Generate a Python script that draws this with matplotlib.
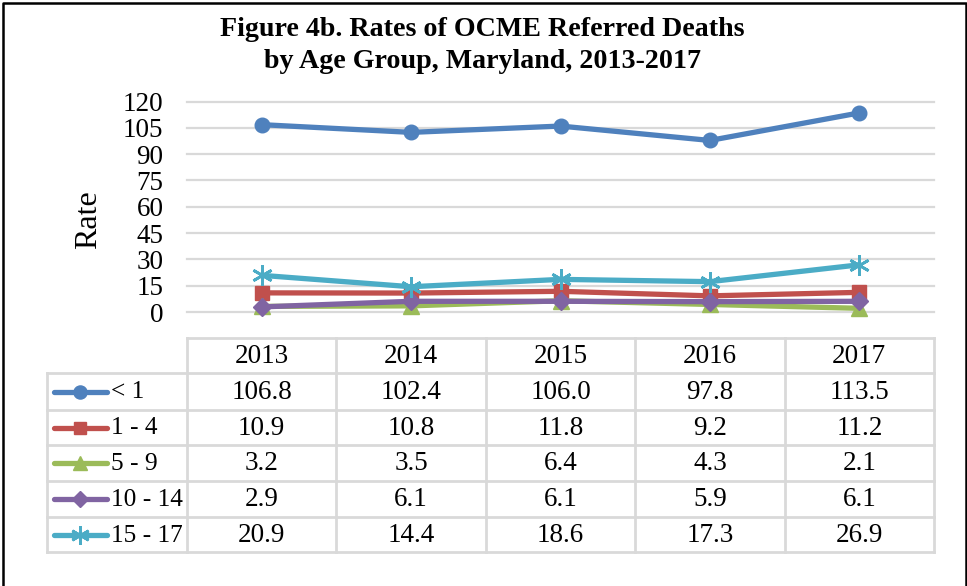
import numpy as np
import matplotlib.pyplot as plt
from matplotlib.lines import Line2D

years = ["2013", "2014", "2015", "2016", "2017"]
groups = ["< 1", "1 - 4", "5 - 9", "10 - 14", "15 - 17"]
under_1 = [106.8, 102.4, 106.0, 97.8, 113.5]
age_1_4 = [10.9, 10.8, 11.8, 9.2, 11.2]
age_5_9 = [3.2, 3.5, 6.4, 4.3, 2.1]
age_10_14 = [2.9, 6.1, 6.1, 5.9, 6.1]
age_15_17 = [20.9, 14.4, 18.6, 17.3, 26.9]
yticks = [0, 15, 30, 45, 60, 75, 90, 105, 120]

series = [under_1, age_1_4, age_5_9, age_10_14, age_15_17]
colors = ["#4F81BD", "#C0504D", "#9BBB59", "#8064A2", "#4BACC6"]
markers = ["o", "s", "^", "D", (6, 2, 0)]
msizes = [10.5, 10, 11, 9, 15]

plt.rcParams['font.family'] = ['Liberation Serif', 'DejaVu Serif']

W, H = 967, 586
fig = plt.figure(figsize=(W / 100, H / 100), dpi=100)

def px_axes(x0, y0, x1, y1):
    return fig.add_axes([x0 / W, 1 - y1 / H, (x1 - x0) / W, (y1 - y0) / H])

# overlay for border, title and the data table (pixel coords)
over = px_axes(0, 0, W, H)
over.set_xlim(0, W)
over.set_ylim(H, 0)
over.axis('off')

# outer frame (left, top, right only visible)
over.plot([3, 3, 965.5, 965.5], [H + 5, 2.5, 2.5, H + 5], color='black', lw=1.8, clip_on=False)

over.text(482, 30, "Figure 4b. Rates of OCME Referred Deaths", ha='center', va='center',
          fontsize=20.2, fontweight='bold')
over.text(482, 62, "by Age Group, Maryland, 2013-2017", ha='center', va='center',
          fontsize=20.2, fontweight='bold')

# main line plot
left, right = 187, 934
y_top, y_zero = 101.5, 312
ax = px_axes(left, y_top, right, y_zero)
ax.set_xlim(-0.5, len(years) - 0.5)
ax.set_ylim(0, 120)
for yv in yticks:
    ax.axhline(yv, color='#D9D9D9', lw=1.6, zorder=0, clip_on=False)
for s, c, m, ms in zip(series, colors, markers, msizes):
    ax.plot(range(len(years)), s, color=c, lw=3.8, marker=m, markersize=ms,
            markeredgewidth=2 if m == (6, 2, 0) else 1, markeredgecolor=c,
            solid_capstyle='round', clip_on=False)
ax.set_yticks(yticks)
ax.set_yticklabels([str(v) for v in yticks], fontsize=19.5)
ax.tick_params(axis='y', length=0, pad=17)
ax.set_xticks([])
for sp in ax.spines.values():
    sp.set_visible(False)
ax.set_ylabel("Rate", fontsize=23)
ax.yaxis.set_label_coords(-0.113, 0.437)

# data table
grid_c = '#D9D9D9'
tab_left = 47
col_w = (right - left) / len(years)
row_y = [338, 373, 410, 445, 481, 517, 552]
over.plot([left, right], [row_y[0], row_y[0]], color=grid_c, lw=2)
for yv in row_y[1:]:
    over.plot([tab_left, right], [yv, yv], color=grid_c, lw=2)
over.plot([tab_left, tab_left], [row_y[1], row_y[-1]], color=grid_c, lw=2)
for i in range(len(years) + 1):
    xv = left + i * col_w
    over.plot([xv, xv], [row_y[0], row_y[-1]], color=grid_c, lw=2)

for i, yr in enumerate(years):
    over.text(left + (i + 0.5) * col_w, (row_y[0] + row_y[1]) / 2 + 1, yr,
              ha='center', va='center', fontsize=19.5)

for r, (g, s, c, m, ms) in enumerate(zip(groups, series, colors, markers, msizes)):
    yc = (row_y[r + 1] + row_y[r + 2]) / 2
    over.add_line(Line2D([54, 107], [yc, yc], color=c, lw=3.8, solid_capstyle='round'))
    over.add_line(Line2D([80], [yc], color=c, marker=m, markersize=ms * 0.9,
                         markeredgecolor=c, markeredgewidth=2 if m == (6, 2, 0) else 1))
    over.text(111, yc + 1, g, ha='left', va='center', fontsize=18.3)
    for i, v in enumerate(s):
        over.text(left + (i + 0.5) * col_w, yc + 1, f"{v:.1f}",
                  ha='center', va='center', fontsize=19.5)

fig.savefig("out.png", dpi=100)
